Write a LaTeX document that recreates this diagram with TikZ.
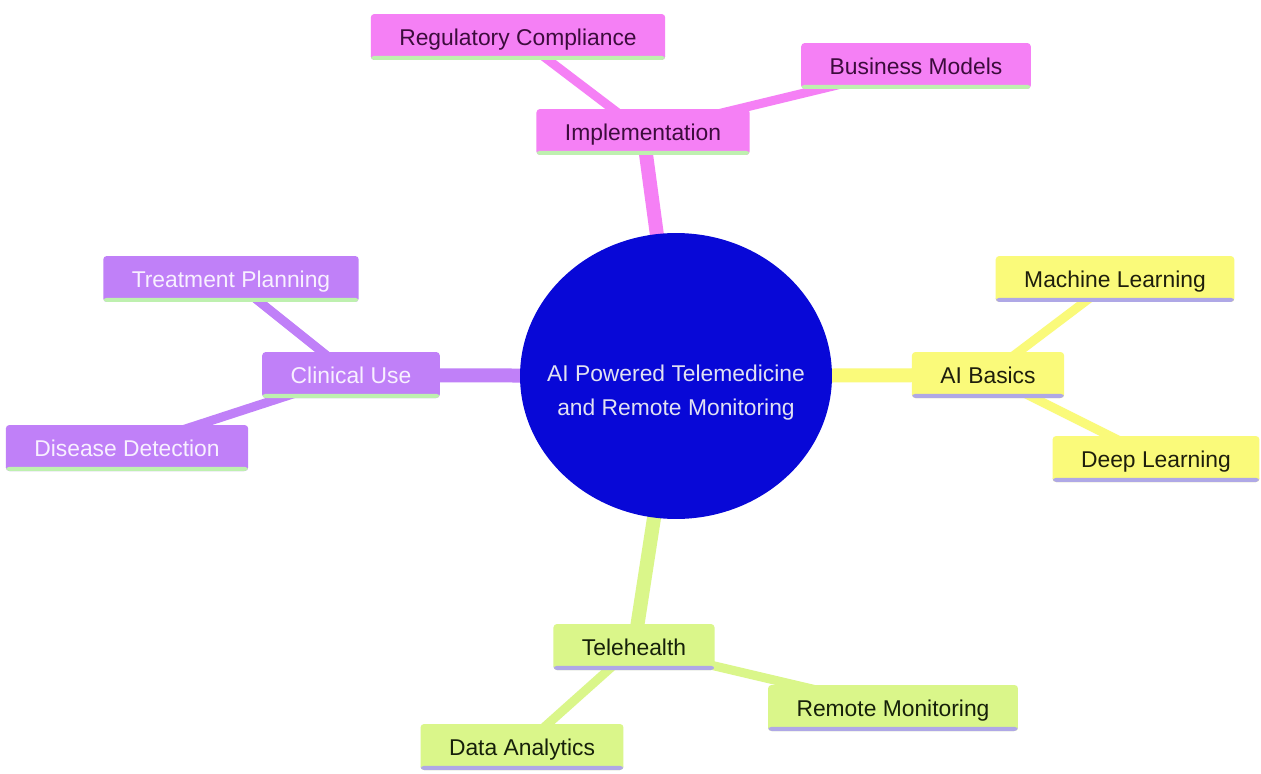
\documentclass[tikz,border=0pt]{standalone}
\usepackage{fontspec}
\setmainfont{Liberation Sans}
\usetikzlibrary{shapes.geometric,backgrounds}

\definecolor{rootblue}{RGB}{8,8,215}
\definecolor{roottext}{RGB}{225,225,242}
\definecolor{implpink}{RGB}{245,128,245}
\definecolor{impltext}{RGB}{60,12,60}
\definecolor{clinpurple}{RGB}{192,128,248}
\definecolor{clintext}{RGB}{248,240,255}
\definecolor{aiyellow}{RGB}{250,250,122}
\definecolor{aitext}{RGB}{30,30,12}
\definecolor{telegreen}{RGB}{218,246,138}
\definecolor{teletext}{RGB}{22,32,10}
\definecolor{mintline}{RGB}{190,240,175}
\definecolor{lilacline}{RGB}{175,168,230}

\begin{document}
\begin{tikzpicture}[
        x=0.02cm, y=-0.02cm,
        every node/.style={font=\fontsize{13}{19.3}\selectfont},
        stripe/.style={path picture={\fill[#1]
            ([yshift=2.4pt]path picture bounding box.south west) rectangle
            (path picture bounding box.south east);}},
        box/.style={rectangle, rounded corners=2pt, minimum height=0.92cm,
            inner xsep=0.57cm, inner ysep=0pt, text height=11pt, text depth=1pt},
        impl/.style={box, fill=implpink, text=impltext, stripe=mintline},
        clin/.style={box, fill=clinpurple, text=clintext, stripe=mintline},
        aib/.style={box, fill=aiyellow, text=aitext, stripe=lilacline},
        tele/.style={box, fill=telegreen, text=teletext, stripe=lilacline},
        root/.style={ellipse, fill=rootblue, minimum width=6.24cm,
            minimum height=5.72cm, inner sep=0pt},
        trunk/.style={line width=0.28cm, line cap=butt},
        twig/.style={line width=0.18cm, line cap=butt},
    ]

    \useasboundingbox (0,0) rectangle (1261,774);

    \node[root](center) at (676,376) {};
    \node[align=center, text=roottext](title) at (676,393)
        {AI Powered Telemedicine\\and Remote Monitoring};

    \node[impl](implementation) at (643,132) {Implementation};
    \node[impl](regulatory) at (518,37) {Regulatory Compliance};
    \node[impl](business) at (916,66) {Business Models};

    \node[clin](clinical) at (351,375) {Clinical Use};
    \node[clin](treatment) at (231,279) {Treatment Planning};
    \node[clin](disease) at (127,448) {Disease Detection};

    \node[aib](aibasics) at (988,375) {AI Basics};
    \node[aib](machine) at (1115,279) {Machine Learning};
    \node[aib](deep) at (1156,459) {Deep Learning};

    \node[tele](telehealth) at (634,647) {Telehealth};
    \node[tele](remote) at (893,708) {Remote Monitoring};
    \node[tele](analytics) at (522,747) {Data Analytics};

    \begin{pgfonlayer}{background}
    \fill[white] (0,0) rectangle (1261,774);
    \path[trunk, draw=implpink] (center.center) -- (implementation.center);
    \path[trunk, draw=clinpurple] (center.center) -- (clinical.center);
    \path[trunk, draw=aiyellow] (center.center) -- (aibasics.center);
    \path[trunk, draw=telegreen] (center.center) -- (telehealth.center);

    \path[twig, draw=implpink]
    (implementation.center) edge (regulatory.center)
    edge (business.center);
    \path[twig, draw=clinpurple]
    (clinical.center) edge (treatment.center)
    edge (disease.center);
    \path[twig, draw=aiyellow]
    (aibasics.center) edge (machine.center)
    edge (deep.center);
    \path[twig, draw=telegreen]
    (telehealth.center) edge (remote.center)
    edge (analytics.center);
    \end{pgfonlayer}
\end{tikzpicture}
\end{document}
